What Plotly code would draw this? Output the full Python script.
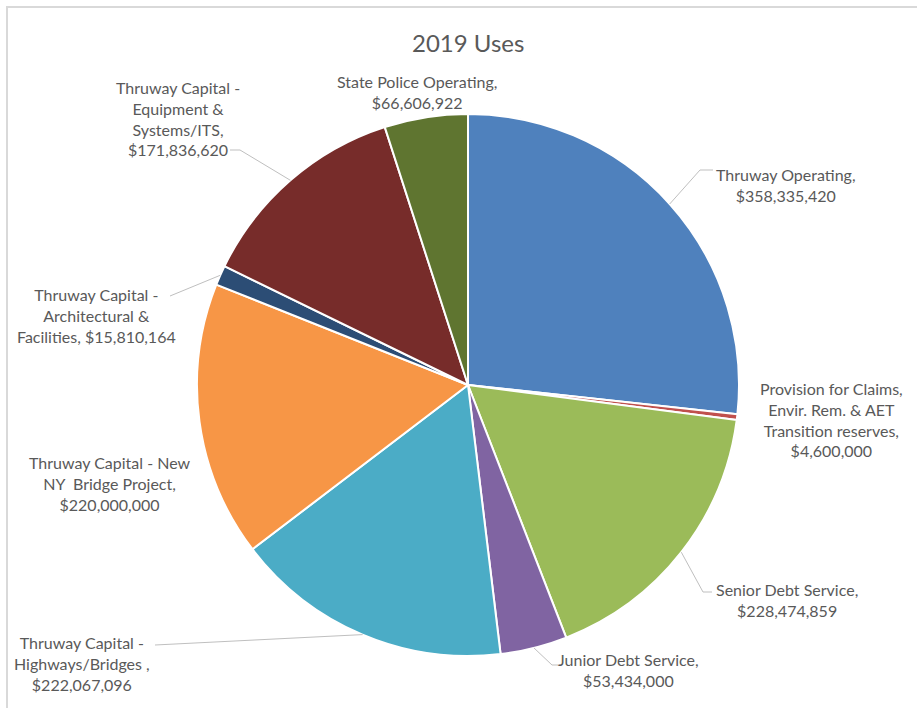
import math
import plotly.graph_objects as go

# ---- data ----
labels = [
    "Thruway Operating",
    "Provision for Claims, Envir. Rem. & AET Transition reserves",
    "Senior Debt Service",
    "Junior Debt Service",
    "Thruway Capital - Highways/Bridges",
    "Thruway Capital - New NY Bridge Project",
    "Thruway Capital - Architectural & Facilities",
    "Thruway Capital - Equipment & Systems/ITS",
    "State Police Operating",
]
values = [358335420, 4600000, 228474859, 53434000, 222067096,
          220000000, 15810164, 171836620, 66606922]
label_texts = [
    "Thruway Operating,<br>$358,335,420",
    "Provision for Claims,<br>Envir. Rem. & AET<br>Transition reserves,<br>$4,600,000",
    "Senior Debt Service,<br>$228,474,859",
    "Junior Debt Service,<br>$53,434,000",
    "Thruway Capital -<br>Highways/Bridges ,<br>$222,067,096",
    "Thruway Capital - New<br>NY  Bridge Project,<br>$220,000,000",
    "Thruway Capital -<br>Architectural &<br>Facilities, $15,810,164",
    "Thruway Capital -<br>Equipment &<br>Systems/ITS,<br>$171,836,620",
    "State Police Operating,<br>$66,606,922",
]
colors = ["#4F81BD", "#C0504D", "#9BBB59", "#8064A2", "#4BACC6",
          "#F79646", "#2C4D75", "#772C2A", "#5F7530"]

# ---- layout (pixels) ----
W, H = 917, 708
CX, CY, R = 468, 385, 271
# label centre positions (x, y of text block centre) and leader elbow points
label_pos = [(786, 185), (831, 419), (787, 600), (628, 670), (82, 663),
             (110, 483), (96, 315), (178, 118), (417, 92)]
leader_end = [(713, 170), None, (712, 592), (558, 665), (155, 645),
              None, (170, 296), (230, 150), None]
elbow = [(700, 170), None, (703, 592), (552, 665), None,
         None, None, (240, 150), None]

FONT = "Lato"
LABEL_SIZE = 16

fig = go.Figure()
fig.add_trace(go.Pie(
    labels=labels, values=values, sort=False, direction="clockwise",
    rotation=0, textinfo="none", hoverinfo="label+value",
    marker=dict(colors=colors, line=dict(color="white", width=2)),
    domain=dict(x=[(CX - R) / W, (CX + R) / W],
                y=[(H - CY - R) / H, (H - CY + R) / H]),
    showlegend=False,
))

# invisible pixel-coordinate axes for annotations/leader lines
fig.add_trace(go.Scatter(x=[0, W], y=[0, H], mode="markers",
                         marker=dict(opacity=0), hoverinfo="skip",
                         showlegend=False))

total = sum(values)
cum = 0
shapes = []
for i, v in enumerate(values):
    mid = (cum + v / 2) / total * 2 * math.pi
    cum += v
    sx = CX + R * math.sin(mid)
    sy = CY - R * math.cos(mid)
    if leader_end[i] is not None:
        pts = [(sx, sy)]
        if elbow[i] is not None:
            pts.append(elbow[i])
        pts.append(leader_end[i])
        path = "M " + " L ".join(f"{x:.1f},{y:.1f}" for x, y in pts)
        shapes.append(dict(type="path", path=path, xref="x", yref="y",
                           line=dict(color="#BFBFBF", width=1)))

# chart border
shapes.append(dict(type="path", path=f"M 7,{H} L 7,7 L {W},7",
                   xref="x", yref="y", line=dict(color="#D9D9D9", width=2)))

annotations = []
for (x, y), t in zip(label_pos, label_texts):
    annotations.append(dict(x=x, y=y, xref="x", yref="y", text=t,
                            showarrow=False, align="center",
                            xanchor="center", yanchor="middle",
                            font=dict(family=FONT, size=LABEL_SIZE, color="#595959")))
annotations.append(dict(x=468, y=42, xref="x", yref="y", text="2019 Uses",
                        showarrow=False, xanchor="center", yanchor="middle",
                        font=dict(family=FONT, size=24, color="#595959")))

fig.update_layout(
    width=W, height=H, margin=dict(l=0, r=0, t=0, b=0),
    paper_bgcolor="white", plot_bgcolor="rgba(0,0,0,0)",
    xaxis=dict(range=[0, W], visible=False, fixedrange=True),
    yaxis=dict(range=[H, 0], visible=False, fixedrange=True),
    shapes=shapes, annotations=annotations,
)
fig.write_html("out.html", config={"displayModeBar": False},
               post_script="document.body.style.margin='0';document.body.style.overflow='hidden';")
